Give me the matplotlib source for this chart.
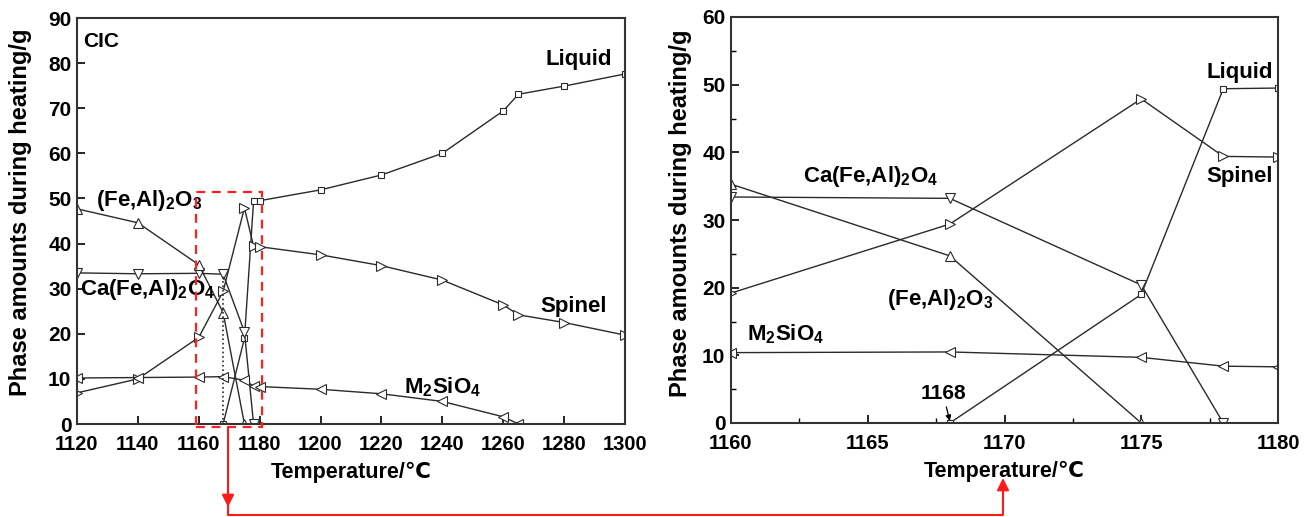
import matplotlib
matplotlib.use("Agg")
import matplotlib.pyplot as plt
from matplotlib.lines import Line2D
from matplotlib.patches import Rectangle
from matplotlib.ticker import MultipleLocator

plt.rcParams['font.family'] = ['Liberation Sans', 'DejaVu Sans']
plt.rcParams['font.weight'] = 'bold'
plt.rcParams['mathtext.fontset'] = 'custom'
plt.rcParams['mathtext.rm'] = 'Liberation Sans:bold'
plt.rcParams['mathtext.bf'] = 'Liberation Sans:bold'
plt.rcParams['mathtext.default'] = 'bf'

# ---- data ----
liquid_T = [1168, 1175, 1178, 1180, 1200, 1220, 1240, 1260, 1265, 1280, 1300]
liquid = [0, 19.0, 49.4, 49.5, 51.9, 55.2, 60.0, 69.4, 73.1, 74.9, 77.6]

spinel_T = [1120, 1140, 1160, 1168, 1175, 1178, 1180, 1200, 1220, 1240, 1260, 1265, 1280, 1300]
spinel = [6.9, 10.0, 19.2, 29.4, 47.9, 39.4, 39.3, 37.5, 35.1, 31.9, 26.4, 24.2, 22.5, 19.7]

ca_T = [1120, 1140, 1160, 1168, 1175, 1178]
ca = [33.5, 33.3, 33.4, 33.2, 20.4, 0]

feal_T = [1120, 1140, 1160, 1168, 1175]
feal = [47.7, 44.6, 35.3, 24.7, 0]

m2_T = [1120, 1140, 1160, 1168, 1175, 1178, 1180, 1200, 1220, 1240, 1260, 1265]
m2 = [10.2, 10.3, 10.4, 10.5, 9.7, 8.4, 8.3, 7.7, 6.7, 5.0, 1.6, 0]

xlabel = "Temperature/\u2103"
ylabel = "Phase amounts during heating/g"

series = [
    (liquid_T, liquid, 's', 4.5),
    (spinel_T, spinel, '>', 6.5),
    (ca_T, ca, 'v', 6.5),
    (feal_T, feal, '^', 6.5),
    (m2_T, m2, '<', 6.5),
]

W, H = 1315, 517
fig = plt.figure(figsize=(W / 100, H / 100), dpi=100)

def px_axes(x0, y0, x1, y1):
    return fig.add_axes([x0 / W, 1 - y1 / H, (x1 - x0) / W, (y1 - y0) / H])

ax1 = px_axes(77, 18, 625, 424)
ax2 = px_axes(731, 17, 1278, 423)

lc = '#2a2a2a'
for ax in (ax1, ax2):
    for T, v, m, ms in series:
        ax.plot(T, v, color=lc, lw=1.0, marker=m, ms=ms, mfc='white',
                mec=lc, mew=0.8)
    for s in ax.spines.values():
        s.set_linewidth(1.5)
        s.set_color('#333333')
    ax.tick_params(direction='in', length=6, width=1.2, labelsize=15,
                   top=False, right=False)
    ax.tick_params(axis='x', pad=8, labelsize=14.5)
    ax.tick_params(axis='y', pad=4)
    ax.tick_params(which='minor', direction='in', length=3.5, width=1.0)
    for lab in ax.get_xticklabels() + ax.get_yticklabels():
        lab.set_fontweight('bold')
    ax.set_xlabel(xlabel, fontsize=15.5, fontweight='bold')
    ax.set_ylabel(ylabel, fontsize=17, fontweight='bold')

# left panel
ax1.set_xlim(1120, 1300)
ax1.set_ylim(0, 90)
ax1.xaxis.set_major_locator(MultipleLocator(20))
ax1.yaxis.set_major_locator(MultipleLocator(10))
ax1.yaxis.set_label_coords(-0.082, 0.522)
ax1.xaxis.set_label_coords(0.5, -0.093)
ax1.vlines(1168, 0, 33.2, colors=lc, linestyles=':', lw=1.2)
ax1.add_patch(Rectangle((1159.1, -0.6), 21.6, 52.0, fill=False, ec='#ff2020',
                        ls=(0, (4, 3)), lw=1.6, clip_on=False, zorder=5))

fs = 16
ax1.text(0.012, 0.965, "CIC", transform=ax1.transAxes, fontsize=15,
         fontweight='bold', ha='left', va='top')
ax1.text(1295.7, 80.7, "Liquid", fontsize=fs, fontweight='bold', ha='right', va='center')
ax1.text(1294.0, 26.0, "Spinel", fontsize=fs, fontweight='bold', ha='right', va='center')
ax1.text(1240, 8.2, "M$_2$SiO$_4$", fontsize=fs, fontweight='bold', ha='center', va='center')
ax1.text(1126.2, 49.6, "(Fe,Al)$_2$O$_3$", fontsize=fs, fontweight='bold', ha='left', va='center')
ax1.text(1121, 29.9, "Ca(Fe,Al)$_2$O$_4$", fontsize=fs, fontweight='bold', ha='left', va='center')

# right panel
ax2.set_xlim(1160, 1180)
ax2.set_ylim(0, 60)
ax2.xaxis.set_major_locator(MultipleLocator(5))
ax2.xaxis.set_minor_locator(MultipleLocator(2.5))
ax2.yaxis.set_major_locator(MultipleLocator(10))
ax2.yaxis.set_minor_locator(MultipleLocator(5))
ax2.yaxis.set_label_coords(-0.071, 0.517)
ax2.xaxis.set_label_coords(0.5, -0.093)

ax2.text(1179.8, 51.8, "Liquid", fontsize=fs, fontweight='bold', ha='right', va='center')
ax2.text(1179.8, 36.4, "Spinel", fontsize=fs, fontweight='bold', ha='right', va='center')
ax2.text(1165.1, 36.4, "Ca(Fe,Al)$_2$O$_4$", fontsize=fs, fontweight='bold', ha='center', va='center')
ax2.text(1167.65, 18.3, "(Fe,Al)$_2$O$_3$", fontsize=fs, fontweight='bold', ha='center', va='center')
ax2.text(1162.0, 13.1, "M$_2$SiO$_4$", fontsize=fs, fontweight='bold', ha='center', va='center')
ax2.annotate("1168", xy=(1168, 0.3), xytext=(1167.75, 4.4), fontsize=15,
             fontweight='bold', ha='center', va='center',
             arrowprops=dict(arrowstyle='-|>', color='black', lw=0.9,
                             mutation_scale=8, shrinkA=1, shrinkB=0))

# red connector arrows (figure pixel coordinates)
def fp(x, y):
    return (x / W, 1 - y / H)

red = '#ff1a1a'
xa, xb, yb = 228, 1003, 515
fig.add_artist(Line2D([fp(xa, 428)[0], fp(xa, yb)[0], fp(xb, yb)[0], fp(xb, 495)[0]],
                      [fp(xa, 428)[1], fp(xa, yb)[1], fp(xb, yb)[1], fp(xb, 495)[1]],
                      color=red, lw=1.5, transform=fig.transFigure))
ax1.annotate('', xy=fp(xa, 507), xytext=fp(xa, 490), xycoords='figure fraction',
             textcoords='figure fraction',
             arrowprops=dict(arrowstyle='-|>', color=red, lw=1.5, mutation_scale=18,
                             shrinkA=0, shrinkB=0))
ax1.annotate('', xy=fp(xb, 478), xytext=fp(xb, 497), xycoords='figure fraction',
             textcoords='figure fraction',
             arrowprops=dict(arrowstyle='-|>', color=red, lw=1.5, mutation_scale=18,
                             shrinkA=0, shrinkB=0))

fig.savefig("out.png", dpi=100)
